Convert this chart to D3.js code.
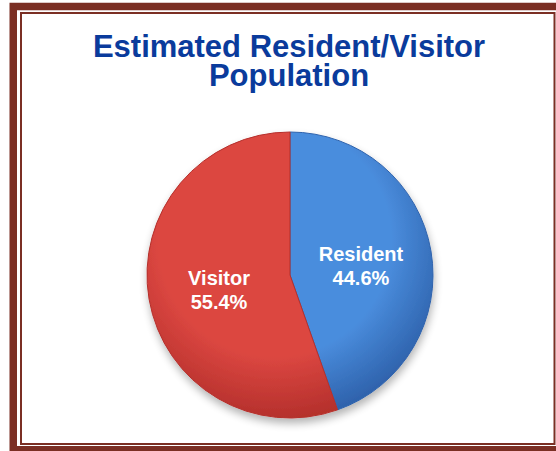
<!DOCTYPE html>
<html>
<head>
<meta charset="utf-8">
<script src="https://cdn.jsdelivr.net/npm/d3@7"></script>
<style>
  body{margin:0;background:#fff;}
  svg{display:block;font-family:"Liberation Sans",Arial,sans-serif;}
</style>
</head>
<body>
<div class="container"></div>
<script>
//chart data
const categories = ["Resident","Visitor"];
const values = [44.6,55.4];
const titleLines = ["Estimated Resident/Visitor","Population"];

const w=556;
const h=451;
const cx=290, cy=275, radius=143;

//colours for each slice [light, dark]
const sliceColors = {
    "Resident":["#4a8ddd","#2f63ad"],
    "Visitor":["#dc4741","#b5302c"]
};
const frameColor="#7b2f24";

const svg = d3.select(".container")
                .append("svg")
                .attr("width",w)
                .attr("height",h);

const defs = svg.append("defs");

//soft shadow under the pie
const shadow = defs.append("filter")
                .attr("id","shadow")
                .attr("x","-20%").attr("y","-20%")
                .attr("width","140%").attr("height","140%");
shadow.append("feGaussianBlur")
      .attr("in","SourceAlpha")
      .attr("stdDeviation",4);
shadow.append("feOffset").attr("dx",1).attr("dy",5).attr("result","blur");
shadow.append("feComponentTransfer")
      .append("feFuncA").attr("type","linear").attr("slope",0.3);
const merge = shadow.append("feMerge");
merge.append("feMergeNode");
merge.append("feMergeNode").attr("in","SourceGraphic");

//radial gradients for the slices (coordinates relative to pie centre)
categories.forEach((c)=>{
    const g = defs.append("radialGradient")
            .attr("id","grad-"+c)
            .attr("gradientUnits","userSpaceOnUse")
            .attr("cx",-15).attr("cy",-35)
            .attr("r",radius*1.25);
    g.append("stop").attr("offset","0%").attr("stop-color",sliceColors[c][0]);
    g.append("stop").attr("offset","65%").attr("stop-color",sliceColors[c][0]);
    g.append("stop").attr("offset","100%").attr("stop-color",sliceColors[c][1]);
});

//frame: thick outer band and thin inner line
svg.append("rect")
    .attr("x",13.25)
    .attr("y",6.5)
    .attr("width",620)
    .attr("height",443.25)
    .style("fill","none")
    .style("stroke",frameColor)
    .style("stroke-width",7.5);
svg.append("rect")
    .attr("x",21)
    .attr("y",13)
    .attr("width",533.5)
    .attr("height",431)
    .style("fill","#fff")
    .style("stroke",frameColor)
    .style("stroke-width",2);

//title
svg.append("text")
    .attr("x",289)
    .attr("y",57)
    .attr("text-anchor","middle")
    .style("font-size","31px")
    .style("font-weight","bold")
    .style("fill","#0a3b9c")
    .selectAll("tspan")
    .data(titleLines)
    .enter()
    .append("tspan")
    .attr("x",289)
    .attr("dy",(d,i)=>i==0?0:28.5)
    .text((d)=>d);

//pie
const pie = d3.pie().sort(null).value((d)=>d.value);
const arcs = pie(categories.map((c,i)=>({name:c,value:values[i]})));
const arc = d3.arc().innerRadius(0).outerRadius(radius);
const labelArc = d3.arc().innerRadius(72).outerRadius(72);

const pieGroup = svg.append("g")
                .attr("transform","translate("+cx+","+cy+")");

pieGroup.append("g")
    .attr("filter","url(#shadow)")
    .selectAll("path")
    .data(arcs)
    .enter()
    .append("path")
    .attr("d",arc)
    .style("fill",(d)=>"url(#grad-"+d.data.name+")")
    .style("stroke",(d)=>sliceColors[d.data.name][1])
    .style("stroke-width",1);

//labels: name and percentage
const labels = pieGroup.selectAll(".label")
                .data(arcs)
                .enter()
                .append("text")
                .attr("class","label")
                .attr("transform",(d)=>"translate("+labelArc.centroid(d)+")")
                .attr("text-anchor","middle")
                .style("font-size","20px")
                .style("font-weight","bold")
                .style("fill","#fff");
labels.append("tspan")
    .attr("x",0)
    .attr("y",-2)
    .text((d)=>d.data.name);
labels.append("tspan")
    .attr("x",0)
    .attr("y",22)
    .text((d)=>d.data.value.toFixed(1)+"%");
</script>
</body>
</html>
